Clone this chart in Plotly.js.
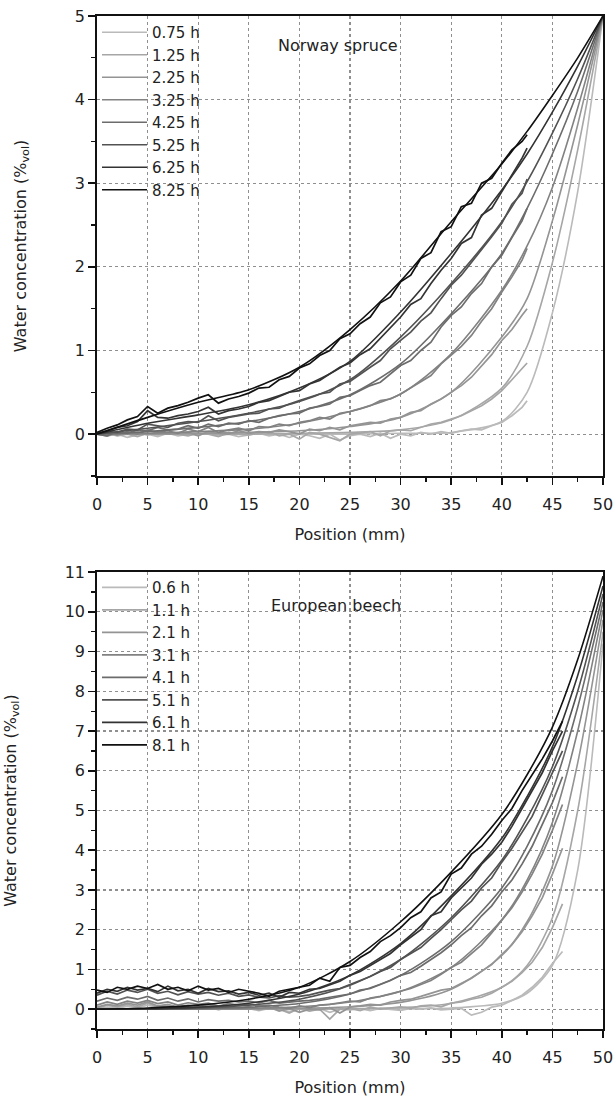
<!DOCTYPE html>
<html><head><meta charset="utf-8">
<script src="https://cdn.plot.ly/plotly-3.0.1.min.js"></script>
<style>body{margin:0;background:#fff}#chart{width:615px;height:1100px}</style>
</head><body><div id="chart"></div>
<script>
// ---------- Norway spruce ----------
const spruceLabels = ['0.75 h','1.25 h','2.25 h','3.25 h','4.25 h','5.25 h','6.25 h','8.25 h'];
const spruceModelX = [0,5,10,15,20,25,30,35,40,42.5,45,47.5,50];
const spruceModel075 = [0,0,0,0,0,0,0.01,0.02,0.15,0.5,1.45,2.9,5.0];
const spruceModel125 = [0,0,0,0,0.01,0.02,0.05,0.17,0.55,1.05,2.05,3.4,5.0];
const spruceModel225 = [0,0,0.01,0.02,0.04,0.09,0.2,0.5,1.16,1.62,2.55,3.7,5.0];
const spruceModel325 = [0,0.01,0.03,0.06,0.13,0.27,0.48,0.96,1.72,2.25,2.95,3.9,5.0];
const spruceModel425 = [0,0.03,0.08,0.15,0.27,0.47,0.84,1.44,2.16,2.7,3.35,4.1,5.0];
const spruceModel525 = [0,0.07,0.15,0.25,0.39,0.65,1.16,1.8,2.54,3.02,3.6,4.25,5.0];
const spruceModel625 = [0,0.13,0.23,0.35,0.55,0.87,1.46,2.16,2.92,3.35,3.85,4.4,5.0];
const spruceModel825 = [0,0.2,0.38,0.53,0.8,1.25,1.83,2.54,3.23,3.62,4.05,4.5,5.0];

const spruceMeasX = [0,1,2,3,4,5,6,7,8,9,10,11,12,13,14,15,16,17,18,19,20,21,22,23,24,25,26,27,28,29,30,31,32,33,34,35,36,37,38,39,40,41,42,42.5];
const spruceMeas075 = [0.00,-0.02,0.00,-0.04,-0.01,0.00,-0.03,0.01,-0.02,0.00,-0.01,0.02,-0.02,0.00,-0.03,-0.01,0.01,-0.02,0.00,-0.04,0.00,-0.02,-0.05,0.00,-0.07,-0.02,0.00,-0.03,0.01,-0.05,0.00,-0.02,0.02,0.00,0.03,0.01,0.04,0.06,0.05,0.10,0.14,0.22,0.32,0.40];
const spruceMeas125 = [0.00,0.01,-0.02,0.00,-0.03,0.01,-0.01,0.02,0.00,-0.02,0.01,0.00,-0.03,0.02,0.00,-0.01,0.01,0.03,-0.02,0.00,-0.06,0.02,0.00,-0.04,-0.08,0.00,0.01,0.03,-0.02,0.04,0.05,0.04,0.08,0.12,0.14,0.18,0.22,0.28,0.34,0.42,0.52,0.65,0.78,0.85];
const spruceMeas225 = [0.00,-0.02,0.01,0.00,0.02,-0.01,0.03,0.00,0.01,0.02,-0.02,0.03,0.01,0.00,0.04,0.01,0.03,0.02,0.05,0.03,0.00,0.06,0.04,0.08,0.05,0.10,0.12,0.14,0.13,0.18,0.20,0.26,0.28,0.36,0.42,0.50,0.58,0.68,0.82,0.95,1.12,1.25,1.42,1.50];
const spruceMeas325 = [0.00,0.02,-0.01,0.03,0.00,0.05,0.02,0.04,0.01,0.06,0.03,0.08,0.02,0.05,0.07,0.04,0.09,0.08,0.12,0.10,0.14,0.16,0.20,0.18,0.25,0.27,0.30,0.34,0.40,0.42,0.48,0.55,0.62,0.70,0.84,0.95,1.05,1.18,1.35,1.50,1.70,1.88,2.08,2.22];
const spruceMeas425 = [0.00,-0.02,0.03,0.01,0.05,0.04,0.08,0.05,0.06,0.10,0.07,0.12,0.09,0.13,0.12,0.16,0.14,0.19,0.22,0.24,0.25,0.31,0.33,0.36,0.44,0.46,0.52,0.58,0.62,0.72,0.82,0.88,1.00,1.10,1.28,1.42,1.52,1.68,1.80,2.00,2.14,2.35,2.55,2.70];
const spruceMeas525 = [0.00,0.03,0.02,0.06,0.05,0.12,0.10,0.08,0.13,0.15,0.14,0.22,0.16,0.20,0.22,0.24,0.25,0.30,0.31,0.36,0.40,0.44,0.48,0.50,0.60,0.63,0.72,0.80,0.88,1.02,1.12,1.22,1.35,1.45,1.62,1.78,1.90,2.05,2.20,2.36,2.52,2.75,2.88,3.05];
const spruceMeas625 = [0.01,0.04,0.08,0.10,0.15,0.28,0.20,0.19,0.22,0.24,0.27,0.32,0.24,0.28,0.30,0.33,0.38,0.40,0.45,0.50,0.52,0.60,0.64,0.72,0.80,0.85,0.95,1.02,1.15,1.28,1.40,1.55,1.62,1.80,1.96,2.10,2.28,2.35,2.62,2.70,2.90,3.10,3.30,3.42];
const spruceMeas825 = [0.02,0.07,0.11,0.17,0.21,0.33,0.25,0.31,0.34,0.38,0.43,0.47,0.37,0.42,0.45,0.49,0.55,0.56,0.65,0.69,0.79,0.84,0.94,1.00,1.14,1.20,1.32,1.40,1.57,1.64,1.82,1.90,2.10,2.17,2.42,2.48,2.72,2.76,3.00,3.06,3.24,3.40,3.50,3.58];

// ---------- European beech ----------
const beechLabels = ['0.6 h','1.1 h','2.1 h','3.1 h','4.1 h','5.1 h','6.1 h','8.1 h'];
const beechModelX = [0,5,10,15,20,25,30,35,40,42.5,45,47.5,50];
const beechModel06 = [0,0,0,0,0,0,0.01,0.03,0.15,0.4,1.1,3.5,9.2];
const beechModel11 = [0,0,0,0,0,0.01,0.04,0.15,0.55,1.1,2.3,5.0,9.5];
const beechModel21 = [0,0,0,0,0.02,0.06,0.17,0.5,1.35,2.2,3.6,6.2,9.8];
const beechModel31 = [0,0,0,0.02,0.06,0.18,0.45,1.05,2.25,3.25,4.7,7.0,10.05];
const beechModel41 = [0,0,0.01,0.05,0.14,0.38,0.85,1.7,3.05,4.1,5.5,7.6,10.25];
const beechModel51 = [0,0,0.03,0.1,0.25,0.6,1.25,2.3,3.75,4.8,6.1,8.0,10.45];
const beechModel61 = [0,0.01,0.05,0.15,0.38,0.85,1.65,2.85,4.3,5.35,6.6,8.4,10.65];
const beechModel81 = [0,0.03,0.1,0.25,0.55,1.2,2.2,3.45,4.9,5.9,7.1,8.8,10.9];

const beechMeasX = [0,1,2,3,4,5,6,7,8,9,10,11,12,13,14,15,16,17,18,19,20,21,22,23,24,25,26,27,28,29,30,31,32,33,34,35,36,37,38,39,40,41,42,43,44,45,46];
const beechMeas06 = [0.00,0.05,0.02,0.08,0.03,0.10,0.04,0.06,0.00,0.05,0.02,0.06,-0.02,0.04,0.00,0.02,-0.04,0.02,0.00,-0.06,0.00,-0.03,0.02,-0.08,0.00,-0.02,0.01,-0.04,0.02,0.00,-0.03,0.02,0.00,0.03,-0.02,0.00,0.02,-0.15,-0.08,0.05,0.10,0.22,0.35,0.55,0.80,1.15,1.45];
const beechMeas11 = [0.02,0.10,0.05,0.12,0.06,0.15,0.05,0.10,0.02,0.08,0.04,0.10,0.00,0.06,0.02,0.05,-0.02,0.04,0.00,-0.10,0.02,-0.05,0.00,-0.25,0.00,0.02,-0.04,0.05,0.00,0.03,0.06,0.02,0.08,0.10,0.06,0.15,0.18,0.25,0.30,0.40,0.55,0.70,0.92,1.18,1.55,2.05,2.65];
const beechMeas21 = [0.05,0.12,0.08,0.15,0.10,0.18,0.08,0.12,0.05,0.10,0.06,0.12,0.04,0.08,0.02,0.06,0.00,0.05,-0.05,0.02,-0.08,0.00,-0.02,0.04,-0.10,0.05,0.08,0.12,0.10,0.18,0.22,0.25,0.32,0.40,0.48,0.52,0.65,0.78,0.95,1.12,1.38,1.62,1.95,2.35,2.80,3.40,4.05];
const beechMeas31 = [0.10,0.18,0.12,0.20,0.15,0.22,0.14,0.18,0.10,0.16,0.12,0.15,0.08,0.14,0.10,0.12,0.08,0.10,0.05,0.02,0.08,0.04,0.10,0.12,0.16,0.20,0.18,0.28,0.32,0.38,0.45,0.52,0.62,0.72,0.88,1.05,1.18,1.40,1.62,1.92,2.25,2.55,2.95,3.40,3.90,4.50,5.15];
const beechMeas41 = [0.20,0.28,0.22,0.30,0.25,0.32,0.22,0.28,0.20,0.26,0.18,0.24,0.20,0.22,0.18,0.20,0.16,0.22,0.15,0.18,0.20,0.22,0.25,0.30,0.34,0.38,0.48,0.52,0.62,0.72,0.85,0.92,1.08,1.25,1.42,1.62,1.85,2.05,2.35,2.60,2.95,3.25,3.65,4.10,4.65,5.20,5.85];
const beechMeas51 = [0.35,0.45,0.38,0.48,0.42,0.50,0.40,0.45,0.36,0.44,0.38,0.42,0.35,0.40,0.32,0.36,0.30,0.28,0.34,0.30,0.32,0.36,0.42,0.48,0.52,0.62,0.70,0.82,0.95,1.05,1.25,1.40,1.55,1.78,2.00,2.25,2.50,2.72,3.05,3.30,3.70,4.05,4.45,4.85,5.40,5.95,6.50];
const beechMeas61 = [0.40,0.50,0.45,0.55,0.48,0.52,0.44,0.58,0.46,0.50,0.40,0.52,0.44,0.46,0.38,0.42,0.35,0.40,0.30,0.42,0.40,0.50,0.52,0.62,0.70,0.85,0.95,1.10,1.25,1.40,1.62,1.80,2.00,2.35,2.45,2.80,3.05,3.30,3.65,3.90,4.20,4.60,5.05,5.50,5.95,6.50,7.00];
const beechMeas81 = [0.48,0.42,0.55,0.50,0.58,0.52,0.62,0.50,0.55,0.46,0.58,0.48,0.52,0.42,0.50,0.45,0.40,0.32,0.45,0.50,0.55,0.60,0.78,0.70,1.05,1.10,1.30,1.45,1.70,1.85,2.05,2.30,2.45,2.80,2.95,3.40,3.55,3.90,4.10,4.40,4.75,5.05,5.50,5.90,6.30,6.75,7.25];

const xTickVals = [0,5,10,15,20,25,30,35,40,45,50];

// ---------- styling ----------
const grays = ['#bababa','#a6a6a6','#949494','#828282','#6c6c6c','#525252','#333333','#111111'];
const FONT = 'DejaVu Sans, Verdana, sans-serif';
const FS = 16;

const spruceModels = [spruceModel075,spruceModel125,spruceModel225,spruceModel325,spruceModel425,spruceModel525,spruceModel625,spruceModel825];
const spruceMeas = [spruceMeas075,spruceMeas125,spruceMeas225,spruceMeas325,spruceMeas425,spruceMeas525,spruceMeas625,spruceMeas825];
const beechModels = [beechModel06,beechModel11,beechModel21,beechModel31,beechModel41,beechModel51,beechModel61,beechModel81];
const beechMeas = [beechMeas06,beechMeas11,beechMeas21,beechMeas31,beechMeas41,beechMeas51,beechMeas61,beechMeas81];

const traces = [];
for (let i = 0; i < 8; i++) {
  traces.push({x: spruceMeasX, y: spruceMeas[i], xaxis:'x', yaxis:'y', mode:'lines',
    line:{color:grays[i], width:1.7}, showlegend:false, hoverinfo:'skip'});
  traces.push({x: spruceModelX, y: spruceModels[i], xaxis:'x', yaxis:'y', mode:'lines',
    line:{color:grays[i], width:1.6, shape:'spline', smoothing:0.8}, name: spruceLabels[i], legend:'legend'});
}
for (let i = 0; i < 8; i++) {
  traces.push({x: beechMeasX, y: beechMeas[i], xaxis:'x2', yaxis:'y2', mode:'lines',
    line:{color:grays[i], width:1.7}, showlegend:false, hoverinfo:'skip'});
  traces.push({x: beechModelX, y: beechModels[i], xaxis:'x2', yaxis:'y2', mode:'lines',
    line:{color:grays[i], width:1.6, shape:'spline', smoothing:0.8}, name: beechLabels[i], legend:'legend2'});
}

const axisCommon = {
  showline:true, linecolor:'#111', linewidth:1.8, mirror:true,
  ticks:'outside', ticklen:7, tickwidth:1.5, tickcolor:'#111',
  showgrid:true, gridcolor:'#8f8f8f', griddash:'dot', gridwidth:1.1,
  zeroline:false, tickfont:{family:FONT, size:FS, color:'#222'}
};
const xCommon = Object.assign({}, axisCommon, {
  range:[0,50], tickvals:xTickVals, ticktext:xTickVals.map(String), ticklabelstandoff:6,
  minor:{dtick:2.5, tick0:0, ticks:'outside', ticklen:4, tickwidth:1.3, tickcolor:'#111', showgrid:false},
  title:{text:'Position (mm)', font:{family:FONT, size:FS, color:'#222'}, standoff:16}
});
const yTitle = {text:'Water concentration (%<sub>vol</sub>)', font:{family:FONT, size:FS, color:'#222'}, standoff:44};

const legendCommon = {
  bgcolor:'rgba(0,0,0,0)', borderwidth:0, font:{family:FONT, size:15, color:'#222'},
  xanchor:'left', yanchor:'top', itemwidth:45, tracegroupgap:0, traceorder:'normal'
};

const layout = {
  width:615, height:1100,
  margin:{l:97, r:12, t:16, b:71},
  paper_bgcolor:'#fff', plot_bgcolor:'#fff',
  font:{family:FONT, size:FS, color:'#222'},
  xaxis: Object.assign({}, xCommon, {anchor:'y', domain:[0,1]}),
  yaxis: Object.assign({}, axisCommon, {anchor:'x', domain:[0.546,1], range:[-0.5,5], dtick:1, tick0:0,
    minor:{dtick:0.5, tick0:0, ticks:'outside', ticklen:4, tickwidth:1.3, tickcolor:'#111', showgrid:false},
    title: yTitle}),
  xaxis2: Object.assign({}, xCommon, {anchor:'y2', domain:[0,1]}),
  yaxis2: Object.assign({}, axisCommon, {anchor:'x2', domain:[0,0.451], range:[-0.5,11], dtick:1, tick0:0,
    minor:{dtick:0.5, tick0:0, ticks:'outside', ticklen:4, tickwidth:1.3, tickcolor:'#111', showgrid:false},
    title: yTitle}),
  legend: Object.assign({}, legendCommon, {x:0.0, y:1.0}),
  legend2: Object.assign({}, legendCommon, {x:0.0, y:0.452}),
  annotations:[
    {text:'Norway spruce', xref:'x', yref:'y', x:23.8, y:4.65, showarrow:false,
     font:{family:FONT, size:FS, color:'#222'}},
    {text:'European beech', xref:'x2', yref:'y2', x:23.6, y:10.15, showarrow:false,
     font:{family:FONT, size:FS, color:'#222'}}
  ],
  showlegend:true
};

Plotly.newPlot('chart', traces, layout, {staticPlot:true, displayModeBar:false});
</script>
</body></html>
